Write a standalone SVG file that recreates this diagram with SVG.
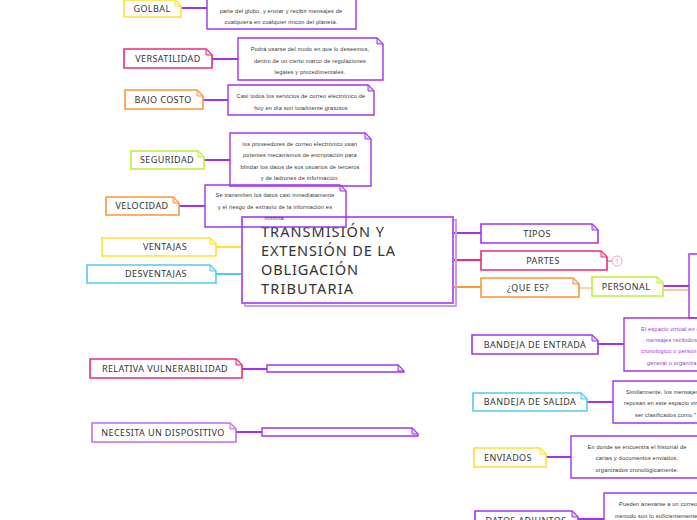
<svg xmlns="http://www.w3.org/2000/svg" width="697" height="520" viewBox="0 0 697 520">
<style>
text{font-family:"Noto Sans","Liberation Sans",sans-serif;}
.lbl{font-size:9px;fill:#333;text-anchor:middle;letter-spacing:0.4px;}
.desc{font-family:"Liberation Sans",Arial,sans-serif;font-size:5.6px;fill:#333;text-anchor:middle;letter-spacing:0.18px;}
.st{text-anchor:start;}
.pdesc{fill:#a030e0;text-anchor:start;}
.ttl{font-size:14.5px;fill:#333;}
.b{fill:#fff;stroke-width:1.6;}
.d{fill:none;stroke:#a033f0;stroke-width:1.4;}
.f{stroke-width:1;}
.pu{stroke:#a033f0;} .fpu{fill:#e8ccff;stroke:#a033f0;}
.lpu{stroke:#b86cf5;} .flpu{fill:#ecd8ff;stroke:#b86cf5;}
.pk{stroke:#f0287a;} .fpk{fill:#ffd0e2;stroke:#f0287a;}
.or{stroke:#f7983a;} .for{fill:#ffe2c4;stroke:#f7983a;}
.ye{stroke:#ffe033;} .fye{fill:#fff6c2;stroke:#ffe033;}
.gr{stroke:#bff03a;} .fgr{fill:#eefcc8;stroke:#bff03a;}
.bl{stroke:#55c8f0;} .fbl{fill:#d4f1fc;stroke:#55c8f0;}
.e{fill:none;stroke-width:2;}
</style>
<rect width="697" height="520" fill="#fff"/>
<g id="connectors">
<path class="e pu" d="M181 8H207"/>
<path class="e pu" d="M212 59H238"/>
<path class="e pu" d="M203 100H228"/>
<path class="e pu" d="M204 160H230"/>
<path class="e pu" d="M179 206H205"/>
<path class="e ye" d="M216 247H242"/>
<path class="e bl" d="M216 274H242"/>
<path class="e pu" d="M453 233H481"/>
<path class="e pk" d="M453 260H481"/>
<path class="e or" d="M453 287H481"/>
<path class="e" stroke="#fcd3ad" d="M579 288H592"/>
<path class="e pu" d="M663 286H689"/>
<path class="e" stroke="#fcc99a" d="M663 290H689"/>
<path class="e pu" d="M598 344H624"/>
<path class="e pu" d="M587 402H613"/>
<path class="e pu" d="M546 457H571"/>
<path class="e pu" d="M578 519H604"/>
<path class="e pu" d="M242 369H267"/>
<path class="e pu" d="M236 432H262"/>
<path class="e" stroke="#f5a0c4" stroke-width="1.2" d="M607 261H612"/>
</g>
<g id="central">
<rect x="245" y="220" width="211" height="86" fill="none" stroke="#c99bf6" stroke-width="2"/>
<rect x="242" y="217" width="211" height="86" fill="#fff" stroke="#b55ef5" stroke-width="2"/>
<text class="ttl" x="261" y="237" textLength="123">TRANSMISIÓN Y</text>
<text class="ttl" x="261" y="256" textLength="134">EXTENSIÓN DE LA</text>
<text class="ttl" x="261" y="275" textLength="97">OBLIGACIÓN</text>
<text class="ttl" x="261" y="294" textLength="92">TRIBUTARIA</text>
</g>
<g id="golbal"><path class="b ye" d="M124 0h51l6 6v11h-57z"/><path class="f fye" d="M175 0v6h6z"/><text class="lbl" x="152" y="12">GOLBAL</text></g>
<g id="golbal-desc"><path class="d" d="M207 -20h149v49h-149z"/><text class="desc" x="281" y="13">parte del globo, y enviar y recibir mensajes de</text><text class="desc" x="281" y="24">cualquiera en cualquier rincón del planeta.</text></g>
<g id="versatilidad"><path class="b pk" d="M124 49h82l6 6v13h-88z"/><path class="f fpk" d="M206 49v6h6z"/><text class="lbl" x="168" y="62">VERSATILIDAD</text></g>
<g id="versatilidad-desc"><path class="d" d="M238 38h139l6 6v36h-145z"/><path class="f fpu" d="M377 38v6h6z"/><text class="desc" x="310" y="51">Podrá usarse del modo en que lo deseemos,</text><text class="desc" x="310" y="63">dentro de un cierto marco de regulaciones</text><text class="desc" x="310" y="74">legales y procedimentales.</text></g>
<g id="bajo-costo"><path class="b or" d="M125 90h72l6 6v13h-78z"/><path class="f for" d="M197 90v6h6z"/><text class="lbl" x="163" y="103">BAJO COSTO</text></g>
<g id="bajo-costo-desc"><path class="d" d="M228 85h140l6 6v24h-146z"/><path class="f fpu" d="M368 85v6h6z"/><text class="desc" x="301" y="98">Casi todos los servicios de correo electrónico de</text><text class="desc" x="301" y="110">hoy en día son totalmente gratuitos</text></g>
<g id="seguridad"><path class="b gr" d="M131 151h67l6 6v12h-73z"/><path class="f fgr" d="M198 151v6h6z"/><text class="lbl" x="167" y="163">SEGURIDAD</text></g>
<g id="seguridad-desc"><path class="d" d="M230 133h135l6 6v47h-141z"/><path class="f fpu" d="M365 133v6h6z"/><text class="desc" x="300" y="146">los proveedores de correo electrónico usan</text><text class="desc" x="300" y="157">potentes mecanismos de encriptación para</text><text class="desc" x="300" y="169">blindar los datos de sus usuarios de terceros</text><text class="desc" x="300" y="180">y de ladrones de información.</text></g>
<g id="velocidad"><path class="b or" d="M106 197h67l6 6v12h-73z"/><path class="f for" d="M173 197v6h6z"/><text class="lbl" x="142" y="209">VELOCIDAD</text></g>
<g id="velocidad-desc"><path class="d" d="M205 185h135l6 6v36h-141z"/><path class="f fpu" d="M340 185v6h6z"/><text class="desc" x="275" y="197">Se transmiten los datos casi inmediatamente</text><text class="desc" x="275" y="209">y el riesgo de extravío de la información es</text><text class="desc" x="275" y="220">mínima.</text></g>
<g id="ventajas"><path class="b ye" d="M102 238h108l6 6v12h-114z"/><path class="f fye" d="M210 238v6h6z"/><text class="lbl" x="165" y="250">VENTAJAS</text></g>
<g id="desventajas"><path class="b bl" d="M87 265h123l6 6v12h-129z"/><path class="f fbl" d="M210 265v6h6z"/><text class="lbl" x="156" y="277">DESVENTAJAS</text></g>
<g id="tipos"><path class="b pu" d="M481 224h111l6 6v13h-117z"/><path class="f fpu" d="M592 224v6h6z"/><text class="lbl" x="537" y="237">TIPOS</text></g>
<g id="partes"><path class="b pk" d="M481 251h120l6 6v13h-126z"/><path class="f fpk" d="M601 251v6h6z"/><text class="lbl" x="543" y="264">PARTES</text><circle cx="617" cy="261" r="5" fill="#fff" stroke="#f5a0c4" stroke-width="1"/><text x="617" y="263.5" font-size="6.5" fill="#f5a0c4" text-anchor="middle">1</text></g>
<g id="que-es"><path class="b or" d="M481 278h92l6 6v13h-98z"/><path class="f for" d="M573 278v6h6z"/><text class="lbl" x="528" y="291">¿QUE ES?</text></g>
<g id="personal"><path class="b gr" d="M592 277h65l6 6v13h-71z"/><path class="f fgr" d="M657 277v6h6z"/><text class="lbl" x="626" y="290">PERSONAL</text></g>
<g id="personal-child"><path class="d" d="M689 254h40v64h-40z"/></g>
<g id="entrada-desc"><path class="d" d="M624 318h80v53h-80z"/><text class="desc pdesc" x="641" y="331">El espacio virtual en c</text><text class="desc pdesc" x="646" y="342">mensajes recibidos,</text><text class="desc pdesc" x="641" y="353">cronológico o person</text><text class="desc pdesc" x="647" y="365">general u organiza</text></g>
<g id="bandeja-entrada"><path class="b pu" d="M472 335h120l6 6v13h-126z"/><path class="f fpu" d="M592 335v6h6z"/><text class="lbl" x="535" y="348">BANDEJA DE ENTRADA</text></g>
<g id="bandeja-salida"><path class="b bl" d="M473 393h108l6 6v12h-114z"/><path class="f fbl" d="M581 393v6h6z"/><text class="lbl" x="530" y="405">BANDEJA DE SALIDA</text></g>
<g id="salida-desc"><path class="d" d="M613 381h90v42h-90z"/><text class="desc st" x="626" y="394">Similarmente, los mensajes</text><text class="desc st" x="624" y="405">reposan en este espacio vir</text><text class="desc st" x="635" y="417">ser clasificados como "</text></g>
<g id="enviados"><path class="b ye" d="M474 448h66l6 6v13h-72z"/><path class="f fye" d="M540 448v6h6z"/><text class="lbl" x="508" y="461">ENVIADOS</text></g>
<g id="enviados-desc"><path class="d" d="M571 436h132v42h-132z"/><text class="desc" x="637" y="449">En donde se encuentra el historial de</text><text class="desc" x="637" y="460">cartas y documentos enviados,</text><text class="desc" x="637" y="472">organizados cronológicamente.</text></g>
<g id="datos-adjuntos"><path class="b pu" d="M475 511h97l6 6v13h-103z"/><path class="f fpu" d="M572 511v6h6z"/><text class="lbl" x="526" y="524">DATOS ADJUNTOS</text></g>
<g id="adjuntos-desc"><path class="d" d="M604 493h100v40h-100z"/><text class="desc st" x="619" y="506">Pueden anexarse a un correo</text><text class="desc st" x="615" y="518">menudo son lo suficientemente</text></g>
<g id="relativa-vulnerabilidad"><path class="b pk" d="M90 359h146l6 6v13h-152z"/><path class="f fpk" d="M236 359v6h6z"/><text class="lbl" x="165" y="372">RELATIVA VULNERABILIDAD</text></g>
<g id="vulnerabilidad-desc"><path class="d" d="M267 365h131l6 6v1h-137z"/><path class="f fpu" d="M398 365v6h6z"/></g>
<g id="necesita-dispositivo"><path class="b lpu" d="M92 423h138l6 6v13h-144z"/><path class="f flpu" d="M230 423v6h6z"/><text class="lbl" x="163" y="436">NECESITA UN DISPOSITIVO</text></g>
<g id="dispositivo-desc"><path class="d" d="M262 428h150l6 6v2h-156z"/><path class="f fpu" d="M412 428v6h6z"/></g>
</svg>
